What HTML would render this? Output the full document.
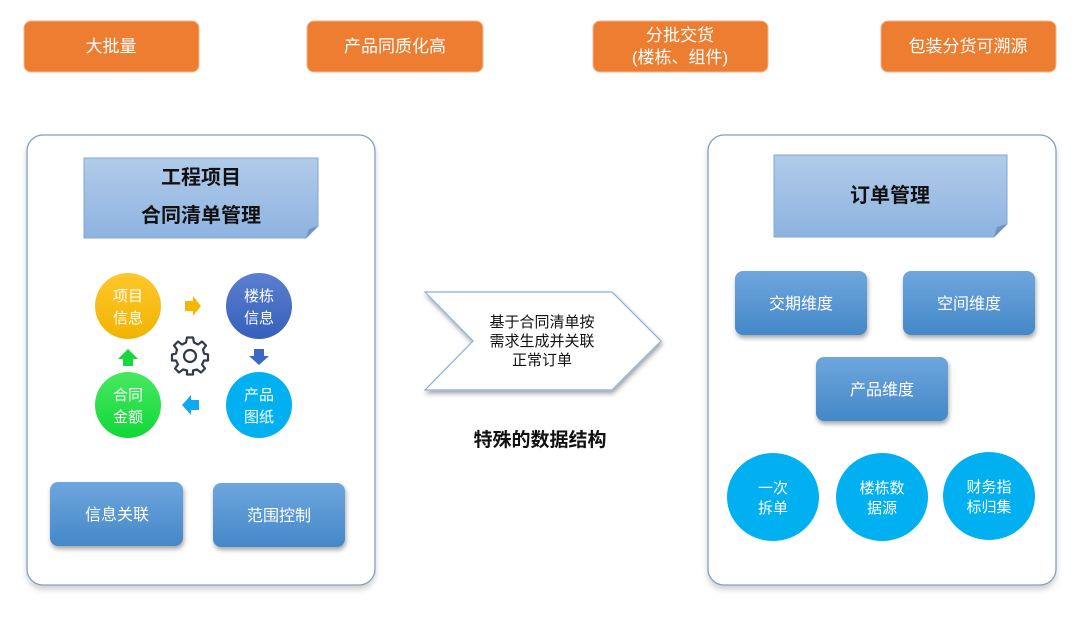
<!DOCTYPE html>
<html><head><meta charset="utf-8"><style>
html,body{margin:0;padding:0;background:#fff;}
svg{display:block;font-family:"Liberation Sans","Noto Sans CJK SC","WenQuanYi Zen Hei",sans-serif;}
</style></head><body>
<svg width="1080" height="619" viewBox="0 0 1080 619" xmlns="http://www.w3.org/2000/svg">
<defs>
<linearGradient id="hdr" x1="0" y1="0" x2="0" y2="1"><stop offset="0" stop-color="#b2cbea"/><stop offset="1" stop-color="#8db3e0"/></linearGradient>
<linearGradient id="btn" x1="0" y1="0" x2="0" y2="1"><stop offset="0" stop-color="#6ea6dd"/><stop offset="1" stop-color="#4488c8"/></linearGradient>
<linearGradient id="yel" x1="0" y1="0" x2="0" y2="1"><stop offset="0" stop-color="#ffc72e"/><stop offset="1" stop-color="#f0b400"/></linearGradient>
<linearGradient id="blu" x1="0" y1="0" x2="0" y2="1"><stop offset="0" stop-color="#5b7fd0"/><stop offset="1" stop-color="#3560bb"/></linearGradient>
<linearGradient id="grn" x1="0" y1="0" x2="0" y2="1"><stop offset="0" stop-color="#48e860"/><stop offset="1" stop-color="#10d838"/></linearGradient>
<filter id="sh" x="-20%" y="-20%" width="140%" height="150%"><feDropShadow dx="1" dy="3" stdDeviation="2.5" flood-color="#000" flood-opacity="0.35"/></filter>
<filter id="sh2" x="-10%" y="-10%" width="120%" height="130%"><feDropShadow dx="0" dy="4" stdDeviation="3" flood-color="#000" flood-opacity="0.18"/></filter>
</defs>

<!-- top orange boxes -->
<g fill="#ed7d31" stroke="#f5b58a" stroke-width="1">
<rect x="24" y="21" width="175" height="51" rx="7"/>
<rect x="307" y="21" width="176" height="51" rx="7"/>
<rect x="593" y="21" width="175" height="51" rx="7"/>
<rect x="881" y="21" width="175" height="51" rx="7"/>
</g>
<g fill="#fff" font-size="17" text-anchor="middle">
<text x="111" y="52">大批量</text>
<text x="395" y="52">产品同质化高</text>
<text x="680" y="41">分批交货</text>
<text x="680" y="63">(楼栋、组件)</text>
<text x="968" y="52">包装分货可溯源</text>
</g>

<!-- panels -->
<rect x="27" y="135" width="348" height="450" rx="16" fill="#fff" stroke="#7f9fc4" stroke-width="1.3" filter="url(#sh2)"/>
<rect x="708" y="135" width="348" height="450" rx="16" fill="#fff" stroke="#7f9fc4" stroke-width="1.3" filter="url(#sh2)"/>

<!-- headers -->
<path d="M84 158 H318 V226 L306 238 H84 Z" fill="url(#hdr)" stroke="#7fa7d6" stroke-width="1"/>
<path d="M306 238 L309 229 L318 226 Z" fill="#6f93c4"/>
<text x="201" y="184" font-size="20" font-weight="bold" text-anchor="middle" fill="#111">工程项目</text>
<text x="201" y="222" font-size="20" font-weight="bold" text-anchor="middle" fill="#111">合同清单管理</text>

<path d="M774 155 H1007 V224 L994 237 H774 Z" fill="url(#hdr)" stroke="#7fa7d6" stroke-width="1"/>
<path d="M994 237 L997 227 L1007 224 Z" fill="#6f93c4"/>
<text x="890" y="202" font-size="20" font-weight="bold" text-anchor="middle" fill="#111">订单管理</text>

<!-- cycle circles -->
<circle cx="128" cy="306" r="33" fill="url(#yel)"/>
<circle cx="259" cy="306" r="33" fill="url(#blu)"/>
<circle cx="128" cy="405" r="33" fill="url(#grn)"/>
<circle cx="259" cy="405" r="33" fill="#00b0f0"/>
<g fill="#fff" font-size="15" text-anchor="middle">
<text x="128" y="301">项目</text><text x="128" y="323">信息</text>
<text x="259" y="301">楼栋</text><text x="259" y="323">信息</text>
<text x="128" y="400">合同</text><text x="128" y="422">金额</text>
<text x="259" y="400">产品</text><text x="259" y="422">图纸</text>
</g>
<!-- small arrows -->
<path d="M185 301 H193 V296 L201 306 L193 316 V311 H185 Z" fill="#f5b800"/>
<path d="M254 349 H264 V356 H269 L259 365 L249 356 H254 Z" fill="#3d67c2"/>
<path d="M199 400 H191 V395 L182 405 L191 415 V410 H199 Z" fill="#10a8ee"/>
<path d="M123 366 H133 V359 H138 L128 349 L118 359 H123 Z" fill="#18d840"/>
<!-- gear -->
<g transform="translate(190,356)" fill="none" stroke="#2f3a4a" stroke-width="2.2" stroke-linejoin="round">
<path d="M-3 -17 H3 L4 -12 L8 -10 L12 -13 L16 -9 L13 -5 L14 -1 L18 0 V6 L14 6 L12 10 L15 14 L11 18 L7 15 L3 16 L3 20 H-3 L-3 16 L-7 15 L-11 18 L-15 14 L-12 10 L-14 6 L-18 6 V0 L-14 -1 L-13 -5 L-16 -9 L-12 -13 L-8 -10 L-4 -12 Z" transform="translate(0,-1.5)"/>
<circle cx="0" cy="0" r="6"/>
</g>

<!-- left buttons -->
<g filter="url(#sh)">
<rect x="50" y="482" width="133" height="64" rx="8" fill="url(#btn)"/>
<rect x="213" y="483" width="132" height="64" rx="8" fill="url(#btn)"/>
<rect x="735" y="271" width="132" height="64" rx="8" fill="url(#btn)"/>
<rect x="903" y="271" width="132" height="64" rx="8" fill="url(#btn)"/>
<rect x="816" y="357" width="132" height="64" rx="8" fill="url(#btn)"/>
</g>
<g fill="#fff" font-size="16" text-anchor="middle">
<text x="117" y="520">信息关联</text>
<text x="279" y="521">范围控制</text>
<text x="801" y="309">交期维度</text>
<text x="969" y="309">空间维度</text>
<text x="882" y="395">产品维度</text>
</g>

<!-- right circles -->
<ellipse cx="773" cy="497" rx="46" ry="44" fill="#00b0f0"/>
<ellipse cx="882" cy="497" rx="46" ry="44" fill="#00b0f0"/>
<ellipse cx="989" cy="496" rx="46" ry="44" fill="#00b0f0"/>
<g fill="#fff" font-size="15" text-anchor="middle">
<text x="773" y="493">一次</text><text x="773" y="513">拆单</text>
<text x="882" y="493">楼栋数</text><text x="882" y="513">据源</text>
<text x="989" y="492">财务指</text><text x="989" y="512">标归集</text>
</g>

<!-- chevron -->
<path d="M425 292 H612 L661 341 L612 390 H425 L473 341 Z" fill="#fff" stroke="#86b0de" stroke-width="1.2" filter="url(#sh)"/>
<g fill="#111" font-size="15" text-anchor="middle">
<text x="542" y="327">基于合同清单按</text>
<text x="542" y="346">需求生成并关联</text>
<text x="542" y="365">正常订单</text>
</g>
<text x="540" y="446" font-size="19" font-weight="bold" text-anchor="middle" fill="#111">特殊的数据结构</text>
</svg>
</body></html>
